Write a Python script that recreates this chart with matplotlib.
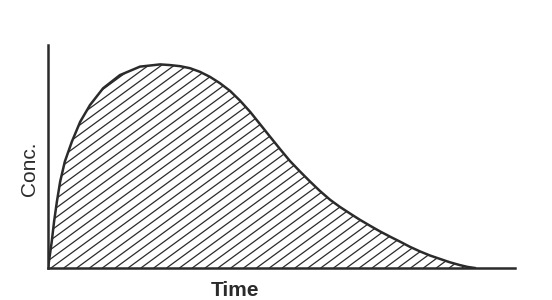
import matplotlib
matplotlib.use("Agg")
import matplotlib.pyplot as plt
import numpy as np
from matplotlib.collections import LineCollection

# concentration-time curve (arbitrary units)
time = [0.0, 0.04, 0.08, 0.13, 0.19, 0.26, 0.36, 0.51, 0.69, 0.90, 1.18, 1.54,
        1.97, 2.40, 2.61, 2.83, 3.04, 3.25, 3.47, 3.68, 3.90, 4.11, 4.33, 4.54,
        4.75, 4.97, 5.18, 5.40, 5.61, 5.82, 6.04, 6.25, 6.47, 6.68, 6.90, 7.11,
        7.33, 7.54, 7.75, 7.97, 8.18, 8.39, 8.60, 8.82, 8.98, 9.14]
conc = [0.0, 5.8, 11.8, 20.8, 29.7, 38.7, 47.7, 56.6, 65.6, 73.1, 80.6, 86.5,
        90.3, 91.3, 91.0, 90.5, 89.6, 88.0, 85.7, 82.9, 79.4, 75.1, 70.0, 64.5,
        59.0, 53.3, 48.0, 43.2, 38.8, 34.6, 30.6, 27.4, 24.4, 21.6, 18.9, 16.4,
        14.0, 11.8, 9.5, 7.4, 5.6, 4.1, 2.6, 1.3, 0.5, 0.0]

x_label = 'Time'
y_label = 'Conc.'

ink = '#2b2b2b'

fig = plt.figure(figsize=(5.52, 3.00), dpi=100)
ax = fig.add_axes([48 / 552, 32 / 300, 467 / 552, 223 / 300])
ax.set_xlim(0, 10)
ax.set_ylim(0, 100)

# area under curve (used as clip region for the hatching)
area = ax.fill_between(time, conc, 0, facecolor='none', edgecolor='none')
clip_path = area.get_paths()[0]

# shallow diagonal hatching, drawn as clipped lines
slope = 15.3      # conc units per time unit (about 36 deg on screen)
step = 0.275
segs = []
for t0 in np.arange(-100 / slope, 10, step):
    segs.append([(t0, 0), (t0 + 100 / slope, 100)])
hatch = LineCollection(segs, colors=ink, linewidths=0.9)
hatch.set_clip_path(clip_path, ax.transData)
ax.add_collection(hatch)

ax.plot(time, conc, color=ink, lw=1.8, solid_joinstyle='round')

for side in ('top', 'right'):
    ax.spines[side].set_visible(False)
for side in ('left', 'bottom'):
    ax.spines[side].set_color(ink)
    ax.spines[side].set_linewidth(1.8)
ax.set_xticks([])
ax.set_yticks([])

fig.text(235 / 552, 1 - 290 / 300, x_label, ha='center', va='center',
         fontsize=15, fontweight='bold', family='Liberation Sans', color=ink)
fig.text(30 / 552, 1 - 169 / 300, y_label, ha='center', va='center',
         rotation=90, fontsize=15, family='Liberation Sans', color=ink)

fig.savefig('out.png', dpi=100, facecolor='white')
